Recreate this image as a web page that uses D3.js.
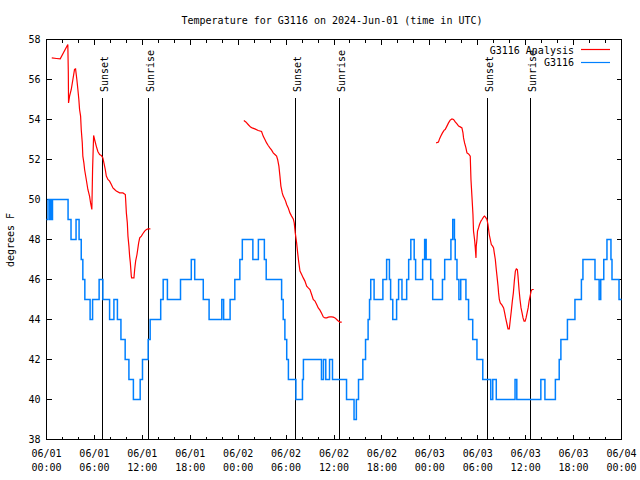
<!DOCTYPE html>
<html><head><meta charset="utf-8">
<script src="https://cdn.jsdelivr.net/npm/d3@7"></script>
<style>
body{margin:0;background:#fff}
svg{display:block}
text{font-family:"DejaVu Sans Mono","Liberation Mono",monospace;font-size:10px;fill:#000}
</style>
</head><body>
<svg id="chart" width="640" height="480"></svg>
<script>
// ---------- data ----------
const chartTitle = "Temperature for G3116 on 2024-Jun-01 (time in UTC)";
const yAxisLabel = "degrees F";
const startTime = Date.UTC(2024, 5, 1);
const endTime = Date.UTC(2024, 5, 4);
const yTicks = [38, 40, 42, 44, 46, 48, 50, 52, 54, 56, 58];
const xTickDates = ["06/01","06/01","06/01","06/01","06/02","06/02","06/02","06/02","06/03","06/03","06/03","06/03","06/04"];
const xTickTimes = ["00:00","06:00","12:00","18:00","00:00","06:00","12:00","18:00","00:00","06:00","12:00","18:00","00:00"];
const sunEventHours = [7.06, 12.71, 31.15, 36.67, 55.23, 60.62];
const sunEventLabels = ["Sunset", "Sunrise", "Sunset", "Sunrise", "Sunset", "Sunrise"];
const seriesNames = ["G3116 Analysis", "G3116"];

// observed (hours since 06/01 00:00 UTC, value held until next point)
const obsHours = [0,0.19,0.41,0.54,0.63,0.75,2.70,3.07,3.70,4.08,
 4.35,4.55,4.80,5.46,5.77,6.59,7.06,7.90,8.44,8.88,
 9.32,9.85,10.32,10.88,11.73,12.02,12.73,12.98,14.30,14.61,
 15.14,16.78,18.13,18.56,19.63,20.36,21.95,22.18,22.99,23.58,
 24.21,24.52,25.84,26.53,27.28,27.51,29.44,29.64,29.85,30.08,
 30.29,31.23,32.05,32.17,34.43,34.68,34.97,35.44,35.81,37.57,
 38.51,38.80,39.07,39.61,39.95,40.27,40.45,40.60,41.02,42.12,
 42.59,42.94,43.09,43.36,43.84,44.09,44.51,45.10,45.35,45.62,
 46.04,46.22,47.10,47.35,47.54,48.11,48.36,49.58,49.86,50.64,
 50.87,51.08,51.18,51.40,51.64,51.87,52.52,52.85,53.37,53.90,
 54.63,55.63,55.88,56.32,58.67,58.89,61.90,62.41,63.72,64.20,
 64.41,65.23,66.17,66.98,67.17,68.68,69.20,69.40,69.78,70.18,
 70.68,70.81,71.69,72];
const obsTemps = [49,50,49,50,49,50,49,48,49,48,
 47,46,45,44,45,46,45,44,45,44,
 43,42,41,40,41,42,43,44,45,46,
 45,46,47,46,45,44,45,44,45,46,
 47,48,47,48,47,46,45,44,43,42,
 41,40,41,42,41,42,41,42,41,40,
 39,40,41,42,43,44,45,46,45,46,
 47,46,45,44,45,46,45,46,47,48,
 47,46,47,48,47,46,45,46,47,48,
 49,48,47,46,45,46,45,44,43,42,
 41,40,41,40,41,40,41,40,41,42,
 43,44,45,46,47,46,45,46,47,48,
 47,46,45,45];

// analysis, three daily segments
const analysis1Hours = [0.66,1.25,1.72,2.67,2.73,2.76,2.89,3.10,3.51,3.64,
 3.80,3.93,4.05,4.14,4.27,4.35,4.48,4.55,4.68,4.77,
 4.98,5.18,5.39,5.52,5.68,5.77,5.90,6.02,6.23,6.43,
 6.65,6.86,7.06,7.19,7.36,7.49,7.69,7.90,8.12,8.32,
 8.53,8.74,9.16,9.57,9.87,9.91,10.0,10.12,10.20,10.32,
 10.41,10.50,10.62,10.66,10.95,11.04,11.16,11.33,11.45,11.54,
 11.67,11.88,12.08,12.29,12.51,12.71,13.01];
const analysis1Temps = [57.08,57.05,57.03,57.75,56.4,54.83,55.17,55.5,56.5,56.53,
 56,55.5,55,54.5,54.17,53.5,52.83,52.17,51.83,51.5,
 51,50.5,50.17,49.83,49.5,51.5,53.2,53,52.67,52.4,
 52.25,52.2,52.08,51.83,51.5,51.17,51,50.92,50.75,50.58,
 50.5,50.42,50.33,50.33,50.25,50,49.33,48.83,48.17,47.67,
 47.17,46.83,46.17,46.08,46.08,46.5,46.92,47.25,47.58,47.83,
 48.08,48.17,48.3,48.42,48.5,48.53,48.53];
const analysis2Hours = [24.71,24.96,25.25,25.55,25.75,26.09,26.51,26.93,27.13,27.35,
 27.56,27.76,27.97,28.19,28.39,28.60,28.81,28.94,29.10,29.23,
 29.35,29.52,29.64,29.77,29.94,30.07,30.27,30.48,30.69,30.90,
 31.02,31.15,31.32,31.45,31.57,31.74,31.95,32.15,32.36,32.58,
 32.78,32.99,33.20,33.40,33.62,33.83,34.03,34.24,34.46,34.66,
 34.87,35.09,35.29,35.50,35.71,35.91,36.13,36.34,36.54,36.75,36.97];
const analysis2Temps = [53.95,53.88,53.75,53.62,53.58,53.53,53.45,53.4,53.17,53,
 52.83,52.7,52.58,52.47,52.33,52.25,52.17,52,51.67,51.17,
 50.67,50.33,50.17,50.08,49.92,49.75,49.58,49.33,49.17,49.03,
 48.83,48.33,47.83,47.33,46.92,46.42,46.25,46.08,45.92,45.67,
 45.58,45.5,45.25,45,44.92,44.75,44.58,44.47,44.3,44.13,
 44.08,44.08,44.12,44.13,44.13,44.12,44.08,44,43.92,43.87,43.87];
const analysis3Hours = [48.79,49.08,49.21,49.38,49.58,49.80,49.92,50.14,50.34,50.55,
 50.77,50.97,51.18,51.40,51.60,51.81,52.02,52.15,52.22,52.35,
 52.52,52.65,52.85,53.06,53.15,53.27,53.40,53.47,53.60,53.69,
 53.78,53.81,53.90,53.97,54.10,54.22,54.40,54.53,54.73,54.85,
 55.03,55.15,55.28,55.36,55.44,55.57,55.70,55.86,55.98,56.07,
 56.20,56.32,56.41,56.54,56.61,56.70,56.82,57.04,57.24,57.37,
 57.49,57.67,57.79,57.95,58.08,58.20,58.33,58.46,58.58,58.71,
 58.83,58.96,59.04,59.17,59.29,59.42,59.55,59.67,59.80,59.93,
 60.05,60.18,60.31,60.43,60.56,60.68,60.80,61.01];
const analysis3Temps = [52.83,52.87,53.03,53.17,53.33,53.47,53.5,53.67,53.83,53.97,
 54.03,54,53.88,53.78,53.67,53.63,53.58,53.33,53.08,52.83,
 52.58,52.33,52.28,52.17,51,50.17,49.25,48.42,48,47.58,
 47.08,47.67,48,48.42,48.58,48.75,48.92,49,49.13,49.17,
 49.08,49,48.75,48.5,48.25,48,47.75,47.67,47.58,47.33,
 47,46.5,46.17,45.67,45.33,45,44.83,44.72,44.58,44.33,
 44.08,43.75,43.53,43.53,44,44.42,44.92,45.33,45.92,46.42,
 46.53,46.5,46.17,45.5,45,44.58,44.33,44.08,43.92,43.92,
 44.08,44.33,44.58,44.92,45.17,45.42,45.5,45.5];

// ---------- drawing ----------
const colors = {analysis: "#ff0000", obs: "#0080ff"};
const svg = d3.select("#chart");
const L = 46.5, R = 621.5, T = 39.5, B = 439.5;
const toDate = h => new Date(startTime + h * 3600e3);
const x = d3.scaleUtc().domain([new Date(startTime), new Date(endTime)]).range([L, R]);
const y = d3.scaleLinear().domain([38, 58]).range([B, T]);

const majorTicks = d3.utcHour.every(6).range(new Date(startTime), new Date(endTime + 1));
const minorTicks = d3.utcHour.every(2).range(new Date(startTime), new Date(endTime + 1));

function styleAxis(g) {
  g.select(".domain").remove();
  g.selectAll("line").attr("stroke", "#000").attr("shape-rendering", "crispEdges");
  g.selectAll("text").attr("font-family", null).attr("font-size", null);
}
// minor x ticks
svg.append("g").attr("transform", `translate(0,${B})`)
  .call(d3.axisBottom(x).tickValues(minorTicks).tickSizeInner(-3).tickSizeOuter(0).tickFormat("").offset(0))
  .call(styleAxis);
svg.append("g").attr("transform", `translate(0,${T})`)
  .call(d3.axisTop(x).tickValues(minorTicks).tickSizeInner(-3).tickSizeOuter(0).tickFormat("").offset(0))
  .call(styleAxis);
// major x ticks
svg.append("g").attr("transform", `translate(0,${B})`)
  .call(d3.axisBottom(x).tickValues(majorTicks).tickSizeInner(-5).tickSizeOuter(0).tickFormat("").offset(0))
  .call(styleAxis);
svg.append("g").attr("transform", `translate(0,${T})`)
  .call(d3.axisTop(x).tickValues(majorTicks).tickSizeInner(-5).tickSizeOuter(0).tickFormat("").offset(0))
  .call(styleAxis);
// x tick labels (two lines)
const xl = svg.append("g");
majorTicks.forEach((d, i) => {
  const t = xl.append("text").attr("text-anchor", "middle");
  t.append("tspan").attr("x", x(d)).attr("y", 457).text(xTickDates[i]);
  t.append("tspan").attr("x", x(d)).attr("y", 471).text(xTickTimes[i]);
});
// y axes
svg.append("g").attr("transform", `translate(${L},0)`)
  .call(d3.axisLeft(y).tickValues(yTicks).tickSizeInner(-5).tickSizeOuter(0).tickPadding(6).offset(0))
  .call(styleAxis);
svg.append("g").attr("transform", `translate(${R},0)`)
  .call(d3.axisRight(y).tickValues(yTicks).tickSizeInner(-5).tickSizeOuter(0).tickFormat("").offset(0))
  .call(styleAxis);

// frame
svg.append("rect").attr("x", L).attr("y", T).attr("width", R - L).attr("height", B - T)
  .attr("fill", "none").attr("stroke", "#000").attr("shape-rendering", "crispEdges");

// title and y label
svg.append("text").attr("x", 332).attr("y", 24).attr("text-anchor", "middle").text(chartTitle);
svg.append("text").attr("transform", "translate(14,240) rotate(-90)").attr("text-anchor", "middle").text(yAxisLabel);

// sunset / sunrise markers
sunEventHours.forEach((h, i) => {
  const px = x(toDate(h));
  svg.append("line").attr("x1", px).attr("x2", px).attr("y1", y(38)).attr("y2", y(55.1))
    .attr("stroke", "#000").attr("stroke-width", 1).attr("shape-rendering", "crispEdges");
  svg.append("text").attr("transform", `translate(${px + 5.5},92) rotate(-90)`)
    .attr("text-anchor", "start").text(sunEventLabels[i]);
});

// series
const lineLin = d3.line().x(d => x(toDate(d[0]))).y(d => y(d[1]));
const lineStep = d3.line().x(d => x(toDate(d[0]))).y(d => y(d[1])).curve(d3.curveStepAfter);
[[analysis1Hours, analysis1Temps], [analysis2Hours, analysis2Temps], [analysis3Hours, analysis3Temps]]
  .forEach(([hs, vs]) => {
    svg.append("path").datum(hs.map((h, i) => [h, vs[i]]))
      .attr("d", lineLin).attr("fill", "none").attr("stroke", colors.analysis).attr("stroke-width", 1.2);
  });
svg.append("path").datum(obsHours.map((h, i) => [h, obsTemps[i]]))
  .attr("d", lineStep).attr("fill", "none").attr("stroke", colors.obs).attr("stroke-width", 1.5);

// legend
const legend = [[seriesNames[0], colors.analysis, 53.5, 49.5], [seriesNames[1], colors.obs, 66, 62.5]];
legend.forEach(([name, c, ty, ly]) => {
  svg.append("text").attr("x", 574).attr("y", ty).attr("text-anchor", "end").text(name);
  svg.append("line").attr("x1", 581).attr("x2", 610).attr("y1", ly).attr("y2", ly)
    .attr("stroke", c).attr("stroke-width", 1.2);
});
</script>
</body></html>
